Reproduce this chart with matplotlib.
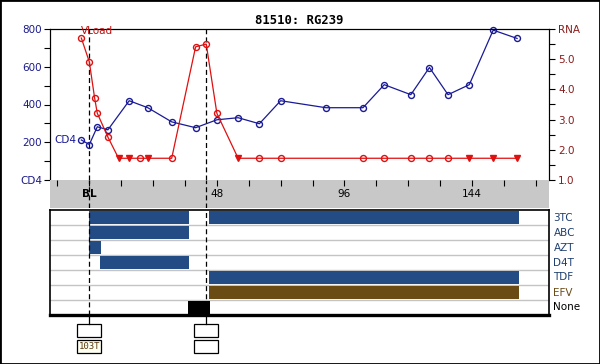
import matplotlib
matplotlib.use('Agg')
import matplotlib.pyplot as plt
from matplotlib.patches import Rectangle
import matplotlib.transforms as mtransforms

# ---------------- data ----------------
title = "81510: RG239"

cd4_weeks = [-3, 0, 3, 7, 15, 22, 31, 40, 48, 56, 64, 72, 89, 103, 111, 121, 128, 135, 143, 152, 161]
cd4_values = [212, 188, 282, 266, 420, 383, 308, 277, 319, 330, 298, 420, 383, 383, 505, 452, 596, 452, 505, 794, 750]

rna_weeks = [-3, 0, 2, 3, 7, 11, 15, 19, 22, 31, 40, 44, 48, 56, 64, 72, 103, 111, 121, 128, 135, 143, 152, 161]
rna_values = [5.70, 4.91, 3.71, 3.21, 2.42, 1.72, 1.72, 1.72, 1.72, 1.72, 5.41, 5.50, 3.21, 1.72, 1.72, 1.72,
              1.72, 1.72, 1.72, 1.72, 1.72, 1.72, 1.72, 1.72]
rna_below_limit = [False, False, False, False, False, True, True, False, True, False, False, False, False, True,
                   False, False, False, False, False, False, False, True, True, True]

xtick_weeks = [0, 48, 96, 144]
xtick_labels = ["BL", "48", "96", "144"]

cd4_ticks = [0, 200, 400, 600, 800]
cd4_tick_labels = ["CD4", "200", "400", "600", "800"]
rna_ticks = [1, 2, 3, 4, 5, 6]
rna_tick_labels = ["1.0", "2.0", "3.0", "4.0", "5.0", "RNA"]

drugs = ["3TC", "ABC", "AZT", "D4T", "TDF", "EFV", "None"]
drug_periods = {
    "3TC": [(0, 37.5), (45.2, 161.7)],
    "ABC": [(0, 37.5)],
    "AZT": [(0, 4.4)],
    "D4T": [(4.2, 37.5)],
    "TDF": [(45.2, 161.7)],
    "EFV": [(45.2, 161.7)],
    "None": [(37.3, 45.4)],
}
drug_colors = {"3TC": "#234c84", "ABC": "#234c84", "AZT": "#234c84", "D4T": "#234c84",
               "TDF": "#234c84", "EFV": "#6b4b14", "None": "#000000"}
drug_label_colors = {"3TC": "#1f3f70", "ABC": "#1f3f70", "AZT": "#1f3f70", "D4T": "#1f3f70",
                     "TDF": "#1f3f70", "EFV": "#6b4b14", "None": "#000000"}

event_weeks = [0, 44]
event_row1 = ["", ""]
event_row2 = ["103T", ""]

# ---------------- layout ----------------
W, H = 600, 364
fig = plt.figure(figsize=(6, 3.64), dpi=100)
plt.rcParams['font.family'] = ['DejaVu Sans']


def px_axes(x0, y0, x1, y1):
    return fig.add_axes([x0 / W, 1 - y1 / H, (x1 - x0) / W, (y1 - y0) / H])


XMIN, XMAX = -14.8, 173.0
FS = 7.5
CD4_COLOR = "#1a1a96"
RNA_COLOR = "#e01010"
dash = (0, (4, 2.5))

# main chart
ax = px_axes(50, 29, 549, 180)
ax.set_xlim(XMIN, XMAX)
ax.set_ylim(0, 800)
ax.set_xticks([])
ax.spines['bottom'].set_visible(False)
ax.set_yticks(cd4_ticks)
ax.set_yticklabels(cd4_tick_labels)
ax.set_yticks([100, 300, 500, 700], minor=True)
ax.tick_params(axis='y', which='both', direction='out', length=4, width=0.8,
               labelsize=FS, labelcolor="#1a1a8c", pad=1.5)

ax2 = ax.twinx()
ax2.set_ylim(1, 6)
ax2.spines['bottom'].set_visible(False)
ax2.set_yticks(rna_ticks)
ax2.set_yticklabels(rna_tick_labels)
ax2.set_yticks([1.5, 2.5, 3.5, 4.5, 5.5], minor=True)
ax2.tick_params(axis='y', which='both', direction='out', length=4, width=0.8,
                labelsize=FS, labelcolor="#8b1a1a", pad=2.5)

ax.plot(cd4_weeks, cd4_values, color=CD4_COLOR, lw=0.9, marker='o', ms=4.3,
        mfc='none', mec=CD4_COLOR, mew=1.0, zorder=3, clip_on=False)

ax2.plot(rna_weeks, rna_values, color=RNA_COLOR, lw=0.9, zorder=3)
for w, v, b in zip(rna_weeks, rna_values, rna_below_limit):
    if b:
        ax2.plot([w], [v], marker='v', ms=4.5, color=RNA_COLOR, mec=RNA_COLOR, zorder=4)
    else:
        ax2.plot([w], [v], marker='o', ms=4.3, mfc='none', mec=RNA_COLOR, mew=1.0, zorder=4)

ax2.text(cd4_weeks[0] - 0.3, 0.985, "VLoad", transform=mtransforms.blended_transform_factory(ax2.transData, ax2.transAxes),
         color="#c01010", fontsize=FS, ha='left', va='center')
ax.annotate("CD4", (cd4_weeks[0], cd4_values[0]), xytext=(-3.5, 0), textcoords='offset points',
            ha='right', va='center', color=CD4_COLOR, fontsize=FS)

for w in event_weeks:
    ax.axvline(w, color='black', lw=0.9, ls=dash, zorder=2)

fig.text(299.5 / W, 1 - 20 / H, title, ha='center', va='center', fontsize=8.8,
         family='DejaVu Sans Mono', fontweight='bold')

# gray time band
axg = px_axes(50, 180, 549, 208)
axg.set_facecolor('#c8c8c8')
axg.set_xlim(XMIN, XMAX)
axg.set_ylim(0, 1)
for s in axg.spines.values():
    s.set_visible(False)
axg.set_yticks([])
axg.set_xticks(xtick_weeks)
axg.set_xticks([w for w in range(-12, 173, 12) if w not in xtick_weeks], minor=True)
axg.tick_params(axis='x', which='both', top=True, bottom=False, labeltop=False, labelbottom=False,
                direction='in', length=4, width=0.8)
for w, lab in zip(xtick_weeks, xtick_labels):
    axg.text(w, 0.5, lab, ha='center', va='center', fontsize=FS,
             fontweight='bold' if lab == "BL" else 'normal')
for w in event_weeks:
    axg.axvline(w, color='black', lw=0.9, ls=dash)

# drug panel
axd = px_axes(50, 210, 549, 315)
axd.set_xlim(XMIN, XMAX)
axd.set_ylim(len(drugs), 0)
axd.set_xticks([])
axd.set_yticks([])
for s in axd.spines.values():
    s.set_linewidth(1.2)
axd.spines['bottom'].set_linewidth(2.4)
for i in range(1, len(drugs)):
    axd.axhline(i, color='#c4c4c4', lw=1.0, zorder=1)
tr = mtransforms.blended_transform_factory(axd.transAxes, axd.transData)
for i, d in enumerate(drugs):
    for (a, b) in drug_periods[d]:
        axd.barh(i + 0.5, b - a, left=a, height=0.86, color=drug_colors[d], zorder=2)
    axd.text(1.009, i + 0.5, d, transform=tr, ha='left', va='center', fontsize=FS,
             color=drug_label_colors[d])
for w in event_weeks:
    axd.axvline(w, color='black', lw=0.9, ls=dash, zorder=3)

# event boxes
axb = px_axes(50, 315, 549, 364)
axb.set_xlim(XMIN, XMAX)
axb.set_ylim(364, 315)
axb.axis('off')
bw = 9.0
for w, t1, t2 in zip(event_weeks, event_row1, event_row2):
    axb.plot([w, w], [315, 324], color='black', lw=0.9)
    axb.add_patch(Rectangle((w - bw / 2, 324), bw, 13, fill=False, ec='black', lw=0.9))
    axb.add_patch(Rectangle((w - bw / 2, 340), bw, 13, fc='#fffff2' if t2 else 'white',
                            ec='black', lw=0.9))
    if t1:
        axb.text(w, 330.5, t1, ha='center', va='center', fontsize=6.5, family='DejaVu Sans Mono',
                 color='#5a3a10')
    if t2:
        axb.text(w, 346.5, t2, ha='center', va='center', fontsize=6.5, family='DejaVu Sans Mono',
                 color='#5a3a10')

fig.add_artist(Rectangle((0, 0), 1, 1, transform=fig.transFigure, fill=False, ec='black', lw=2))

fig.savefig('out.png', dpi=100)
